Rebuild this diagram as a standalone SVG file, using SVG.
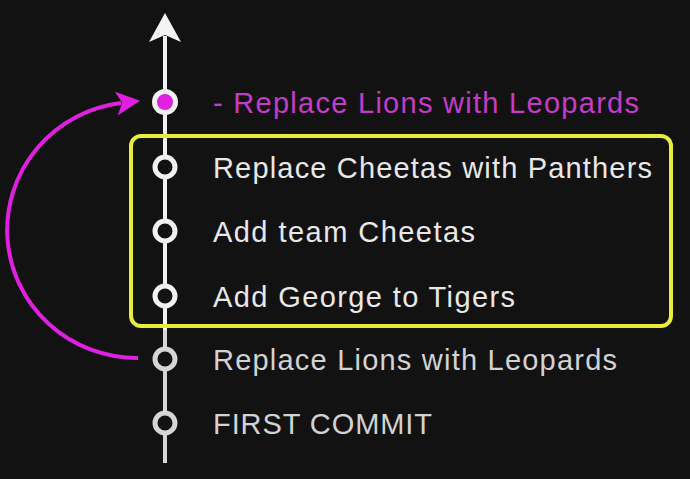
<svg xmlns="http://www.w3.org/2000/svg" width="690" height="479" viewBox="0 0 690 479">
<style>
.lbl{font-family:"Liberation Sans",Arial,sans-serif;font-size:29px;fill:#e8e8e8}
.dim{fill:#d2d2d2}
.mag{fill:#c43cc8}
.node{fill:#121212;stroke:#f2f2f2;stroke-width:5}
.nodeDim{fill:#121212;stroke:#d6d6d6;stroke-width:5}
</style>
<defs>
<marker id="mh" viewBox="0 0 10 10" refX="2" refY="5" markerWidth="6" markerHeight="6" markerUnits="strokeWidth" orient="auto">
<path d="M0,0 L10,5 L0,10 L2.5,5 Z" fill="#e020e0"/>
</marker>
</defs>
<rect width="690" height="479" fill="#121212"/>
<g id="connectors">
<line x1="165" y1="36" x2="165" y2="330" stroke="#f2f2f2" stroke-width="4"/>
<line x1="165" y1="330" x2="165" y2="463" stroke="#d6d6d6" stroke-width="4"/>
<path d="M165,13 L181,42 L165,35 L149,42 Z" fill="#f4f4f4"/>
<path d="M138,358 A130,128 0 0 1 121,103" fill="none" stroke="#e020e0" stroke-width="4" marker-end="url(#mh)"/>
</g>
<g id="box">
<rect x="131" y="136" width="540" height="190" rx="10" fill="none" stroke="#e8ec3a" stroke-width="4"/>
</g>
<g id="n1">
<circle cx="165" cy="102" r="10.5" fill="#e020e0" stroke="#f2f2f2" stroke-width="5"/>
<text class="lbl mag" x="213" y="113" textLength="426" lengthAdjust="spacing">- Replace Lions with Leopards</text>
</g>
<g id="n2">
<circle class="node" cx="165" cy="167" r="10"/>
<text class="lbl" x="213" y="178" textLength="439" lengthAdjust="spacing">Replace Cheetas with Panthers</text>
</g>
<g id="n3">
<circle class="node" cx="165" cy="231" r="10"/>
<text class="lbl" x="213" y="242" textLength="262" lengthAdjust="spacing">Add team Cheetas</text>
</g>
<g id="n4">
<circle class="node" cx="165" cy="296" r="10"/>
<text class="lbl" x="213" y="307" textLength="302" lengthAdjust="spacing">Add George to Tigers</text>
</g>
<g id="n5">
<circle class="nodeDim" cx="165" cy="359" r="10"/>
<text class="lbl dim" x="213" y="370" textLength="404" lengthAdjust="spacing">Replace Lions with Leopards</text>
</g>
<g id="n6">
<circle class="nodeDim" cx="165" cy="423" r="10"/>
<text class="lbl dim" x="213" y="434" textLength="219" lengthAdjust="spacing">FIRST COMMIT</text>
</g>
</svg>
